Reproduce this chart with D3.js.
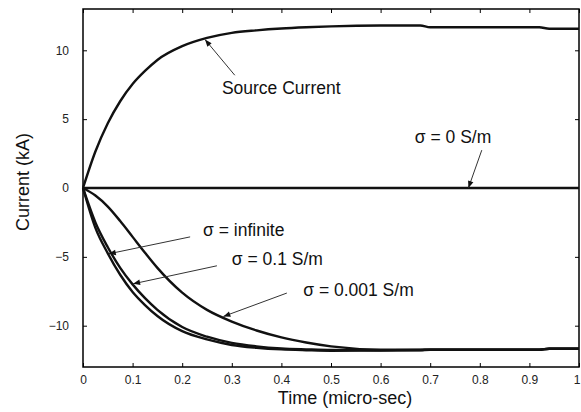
<!DOCTYPE html>
<html>
<head>
<meta charset="utf-8">
<script src="https://cdn.jsdelivr.net/npm/d3@7"></script>
<style>
  body { margin: 0; background: #fff; }
  svg { display: block; }
</style>
</head>
<body>
<svg id="chart"></svg>
<script>
// time in micro-sec, current in kA
const time     = [0, 0.025, 0.05, 0.075, 0.1, 0.125, 0.15, 0.2, 0.25, 0.3, 0.35, 0.4, 0.45, 0.5, 0.6, 0.68, 0.7, 0.92, 0.94, 1];
const source   = [0, 2.65, 4.7, 6.3, 7.55, 8.5, 9.3, 10.3, 10.9, 11.27, 11.45, 11.58, 11.67, 11.74, 11.8, 11.8, 11.67, 11.67, 11.57, 11.57];
const sigmaInf = [0, -2.9, -4.75, -6.3, -7.55, -8.5, -9.3, -10.4, -11.0, -11.4, -11.6, -11.72, -11.78, -11.82, -11.8, -11.78, -11.75, -11.75, -11.67, -11.67];
const sigma01  = [0, -2.5, -4.3, -5.8, -7.0, -8.0, -8.85, -10.1, -10.8, -11.25, -11.5, -11.65, -11.72, -11.77, -11.78, -11.76, -11.74, -11.74, -11.67, -11.67];
const sigma0001 = [0, -0.55, -1.35, -2.4, -3.55, -4.7, -5.8, -7.6, -8.85, -9.7, -10.35, -10.85, -11.22, -11.5, -11.74, -11.75, -11.74, -11.74, -11.67, -11.67];
const sigma0   = time.map(() => 0);

const xTicks = [0, 0.1, 0.2, 0.3, 0.4, 0.5, 0.6, 0.7, 0.8, 0.9, 1];
const yTicks = [-10, -5, 0, 5, 10];

// annotations: label text, label anchor, arrow tail, arrow tip (data units)
const labels    = ["Source Current", "σ = 0 S/m", "σ = infinite", "σ = 0.1 S/m", "σ = 0.001 S/m"];
const labelAt   = [[0.28, 6.81], [0.669, 3.26], [0.242, -3.48], [0.3, -5.58], [0.444, -7.83]];
const arrowFrom = [[0.306, 8.19], [0.804, 2.75], [0.216, -3.55], [0.27, -5.65], [0.411, -7.63]];
const arrowTo   = [[0.246, 10.78], [0.777, 0], [0.052, -4.78], [0.101, -6.96], [0.283, -9.33]];

const width = 581, height = 412;
const margin = { top: 9, right: 2, bottom: 45, left: 83 };
const font = "'Liberation Sans', Arial, sans-serif";

const svg = d3.select("#chart")
  .attr("width", width)
  .attr("height", height)
  .style("font-family", font);

const x = d3.scaleLinear().domain([0, 1]).range([margin.left, width - margin.right]);
const y = d3.scaleLinear().domain([-13, 13]).range([height - margin.bottom, margin.top]);

// ticks point inward on all four sides
svg.append("g")
  .attr("transform", `translate(0,${y(-13)})`)
  .call(d3.axisBottom(x).tickValues(xTicks).tickSizeInner(-4).tickSizeOuter(0).tickPadding(8)
    .tickFormat(d => d === 0 || d === 1 ? d3.format("d")(d) : d3.format(".1f")(d)))
  .call(g => g.select(".domain").remove())
  .call(g => g.selectAll("text").attr("font-size", 12).attr("font-family", font).attr("fill", "#222"))
  .call(g => g.selectAll(".tick text").filter(d => d === 1).attr("text-anchor", "end").attr("dx", 1));

svg.append("g")
  .attr("transform", `translate(0,${y(13)})`)
  .call(d3.axisTop(x).tickValues(xTicks).tickSizeInner(-4).tickSizeOuter(0).tickFormat(""))
  .call(g => g.select(".domain").remove());

svg.append("g")
  .attr("transform", `translate(${x(0)},0)`)
  .call(d3.axisLeft(y).tickValues(yTicks).tickSizeInner(-4).tickSizeOuter(0).tickPadding(14))
  .call(g => g.select(".domain").remove())
  .call(g => g.selectAll("text").attr("font-size", 12).attr("font-family", font).attr("fill", "#222"));

svg.append("g")
  .attr("transform", `translate(${x(1)},0)`)
  .call(d3.axisRight(y).tickValues(yTicks).tickSizeInner(-4).tickSizeOuter(0).tickFormat(""))
  .call(g => g.select(".domain").remove());

svg.append("rect")
  .attr("x", x(0))
  .attr("y", y(13))
  .attr("width", x(1) - x(0))
  .attr("height", y(-13) - y(13))
  .attr("fill", "none")
  .attr("stroke", "#000")
  .attr("stroke-width", 1.5);

// curves
const series = [source, sigma0, sigmaInf, sigma01, sigma0001];
const line = d3.line()
  .x(d => x(d[0]))
  .y(d => y(d[1]))
  .curve(d3.curveMonotoneX);

svg.append("g")
  .selectAll("path")
  .data(series)
  .join("path")
  .attr("d", s => line(time.map((t, i) => [t, s[i]])))
  .attr("fill", "none")
  .attr("stroke", "#111")
  .attr("stroke-width", 2.4)
  .attr("stroke-linejoin", "round");

// arrows
svg.append("defs").append("marker")
  .attr("id", "head")
  .attr("viewBox", "0 0 10 10")
  .attr("refX", 10)
  .attr("refY", 5)
  .attr("markerWidth", 9)
  .attr("markerHeight", 7)
  .attr("markerUnits", "userSpaceOnUse")
  .attr("orient", "auto")
  .append("path")
  .attr("d", "M0,1 L10,5 L0,9 z")
  .attr("fill", "#111");

svg.append("g")
  .selectAll("line")
  .data(arrowFrom)
  .join("line")
  .attr("x1", d => x(d[0]))
  .attr("y1", d => y(d[1]))
  .attr("x2", (d, i) => x(arrowTo[i][0]))
  .attr("y2", (d, i) => y(arrowTo[i][1]))
  .attr("stroke", "#333")
  .attr("stroke-width", 1)
  .attr("marker-end", "url(#head)");

svg.append("g")
  .selectAll("text")
  .data(labels)
  .join("text")
  .attr("x", (d, i) => x(labelAt[i][0]))
  .attr("y", (d, i) => y(labelAt[i][1]))
  .attr("font-size", 17.5)
  .attr("fill", "#111")
  .text(d => d);

// axis titles
svg.append("text")
  .attr("x", 345)
  .attr("y", 404)
  .attr("text-anchor", "middle")
  .attr("font-size", 18)
  .attr("fill", "#111")
  .text("Time (micro-sec)");

svg.append("text")
  .attr("transform", "translate(29,182) rotate(-90)")
  .attr("text-anchor", "middle")
  .attr("font-size", 18)
  .attr("fill", "#111")
  .text("Current (kA)");
</script>
</body>
</html>
